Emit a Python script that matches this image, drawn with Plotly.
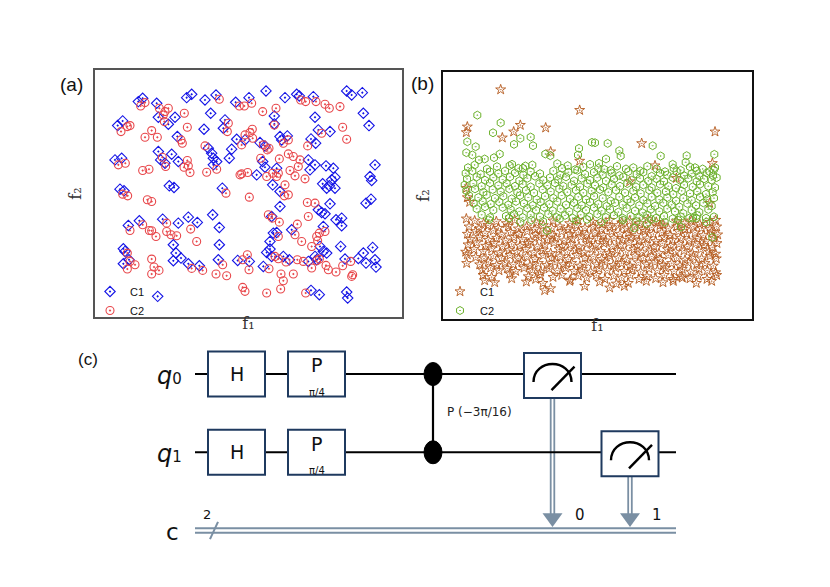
import plotly.graph_objects as go

# ---------------------------------------------------------------------------
# panel (a): two interleaved classes, positions
# (f1 to the right, f2 counted downward from the top of the frame)
A_C1 = [
    (265, 125), (278, 115), (320, 130), (410, 113), (425, 103), (465, 120), (498, 105), (557, 127),
    (597, 113), (648, 93), (705, 113), (740, 103), (748, 108), (790, 110), (890, 93), (905, 105),
    (937, 98), (940, 160), (957, 197), (325, 172), (375, 172), (355, 193), (482, 160), (525, 180),
    (520, 205), (462, 208), (203, 197), (218, 183), (673, 168), (673, 192), (795, 172), (805, 210),
    (840, 215), (382, 230), (560, 238), (585, 240), (630, 248), (645, 258), (690, 230), (712, 228),
    (695, 240), (783, 237), (797, 250), (475, 265), (485, 280), (545, 268), (195, 300), (215, 295),
    (325, 275), (332, 300), (345, 310), (365, 283), (385, 305), (490, 295), (490, 315), (500, 305),
    (538, 295), (620, 345), (638, 305), (645, 322), (680, 325), (775, 300), (795, 315), (780, 330),
    (828, 318), (850, 325), (855, 352), (845, 360), (975, 315), (960, 350), (965, 362), (210, 388),
    (222, 393), (358, 378), (372, 383), (517, 385), (668, 375), (690, 395), (818, 372), (838, 378),
    (855, 385), (830, 385), (948, 430), (963, 418), (840, 432), (690, 440), (805, 450), (815, 458),
    (825, 462), (235, 497), (268, 483), (338, 478), (385, 490), (415, 472), (442, 488), (488, 465),
    (508, 503), (665, 470), (858, 480), (875, 475), (875, 498), (725, 510), (820, 500), (670, 520),
    (680, 518), (660, 545), (872, 560), (220, 567), (225, 575), (370, 555), (378, 580), (370, 603),
    (393, 595), (415, 612), (448, 618), (508, 555), (505, 600), (563, 602), (598, 605), (650, 578),
    (660, 568), (640, 620), (700, 590), (718, 600), (775, 605), (795, 590), (800, 600), (810, 560),
    (820, 575), (830, 580), (885, 598), (925, 596), (940, 580), (968, 563), (948, 610), (975, 600),
    (978, 622), (220, 612), (237, 600), (665, 590), (323, 710), (783, 692), (808, 705), (890, 697),
    (893, 715),
]
A_C2 = [
    (272, 138), (285, 128), (328, 145), (345, 155), (355, 145), (343, 185), (340, 165), (403, 160),
    (412, 202), (508, 118), (568, 138), (583, 138), (605, 130), (638, 155), (678, 145), (752, 120),
    (767, 125), (798, 125), (825, 133), (838, 145), (870, 140), (878, 202), (890, 238), (213, 215),
    (232, 200), (240, 197), (285, 232), (305, 212), (322, 232), (393, 240), (397, 250), (535, 190),
    (532, 215), (575, 255), (585, 225), (600, 218), (608, 235), (607, 208), (465, 258), (652, 270),
    (657, 265), (640, 255), (673, 195), (715, 240), (700, 250), (773, 258), (815, 220), (205, 315),
    (226, 310), (278, 332), (297, 328), (337, 292), (347, 320), (402, 322), (420, 338), (415, 318),
    (412, 302), (470, 337), (500, 328), (570, 345), (575, 342), (593, 338), (632, 295), (650, 350),
    (668, 340), (685, 340), (680, 350), (688, 297), (715, 282), (730, 290), (720, 332), (745, 320),
    (750, 300), (735, 348), (705, 375), (765, 357), (598, 412), (218, 403), (233, 408), (292, 420),
    (305, 425), (528, 400), (703, 408), (715, 405), (772, 428), (795, 430), (775, 470), (240, 512),
    (278, 495), (298, 512), (305, 513), (318, 530), (350, 490), (350, 515), (363, 525), (380, 528),
    (422, 508), (440, 545), (655, 465), (667, 475), (688, 487), (685, 530), (742, 493), (735, 525),
    (755, 545), (808, 520), (825, 515), (800, 530), (803, 543), (785, 560), (232, 580), (240, 605),
    (255, 615), (232, 628), (305, 598), (312, 622), (327, 632), (305, 643), (425, 626), (458, 632),
    (498, 643), (518, 615), (530, 648), (592, 585), (578, 600), (597, 630), (657, 627), (675, 590),
    (685, 597), (708, 607), (730, 643), (742, 600), (760, 605), (800, 603), (808, 598), (785, 625),
    (828, 617), (835, 630), (858, 637), (878, 618), (902, 605), (908, 645), (905, 650), (693, 643),
    (700, 663), (692, 688), (578, 683), (585, 695), (650, 700), (767, 700),
]

# ---------------------------------------------------------------------------
# panel (b): two bands, C2 on top of C1
B_C2 = [
    (103, 130), (173, 153), (150, 183), (263, 196), (232, 200), (213, 218), (270, 222), (73, 210),
    (98, 225), (70, 243), (88, 250), (153, 258), (170, 247), (307, 247), (322, 252), (408, 230),
    (447, 212), (405, 250), (456, 213), (494, 215), (629, 222), (529, 237), (533, 253), (489, 262),
    (468, 275), (484, 293), (653, 253), (689, 278), (731, 252), (728, 272), (814, 248), (812, 295),
    (756, 288), (108, 265), (125, 262), (200, 282), (240, 290), (268, 280),
    (75, 288), (95, 280), (132, 292), (162, 285), (207, 278), (226, 290), (247, 283), (343, 276),
    (357, 290), (374, 282), (396, 294), (421, 286), (441, 278), (466, 290), (503, 296), (522, 284),
    (549, 292), (571, 288), (592, 298), (613, 284), (641, 292), (666, 300), (692, 290), (713, 296),
    (741, 286), (761, 298), (779, 292), (799, 300), (816, 288),
    (68, 305), (88, 298), (113, 308), (141, 300), (166, 306), (186, 298), (216, 304), (241, 310),
    (263, 300), (291, 306), (331, 298), (352, 310), (376, 302), (403, 296), (426, 308), (453, 302),
    (479, 310), (506, 304), (529, 312), (556, 300), (581, 308), (601, 302), (626, 314), (651, 304),
    (673, 310), (701, 300), (723, 312), (746, 306), (769, 314), (791, 304), (810, 312),
    (72, 322), (101, 316), (126, 326), (151, 318), (179, 324), (201, 316), (229, 328), (253, 320),
    (276, 314), (301, 326), (321, 318), (346, 324), (369, 316), (393, 328), (416, 320), (441, 326),
    (463, 318), (489, 328), (513, 322), (541, 316), (566, 326), (591, 320), (616, 328), (641, 322),
    (663, 330), (689, 318), (711, 326), (736, 320), (761, 330), (783, 322), (806, 326), (821, 318),
    (65, 340), (91, 336), (116, 344), (141, 334), (166, 342), (191, 336), (216, 344), (239, 338),
    (263, 346), (289, 336), (313, 342), (336, 334), (361, 344), (386, 340), (411, 346), (433, 336),
    (456, 342), (481, 348), (506, 338), (531, 344), (553, 336), (579, 346), (601, 340), (626, 348),
    (651, 338), (676, 344), (699, 350), (723, 340), (749, 346), (771, 338), (796, 344), (816, 348),
    (70, 358), (96, 352), (121, 362), (149, 354), (173, 360), (199, 352), (223, 362), (249, 356),
    (273, 364), (299, 354), (323, 360), (349, 352), (373, 362), (399, 356), (421, 364), (446, 358),
    (471, 354), (496, 362), (519, 356), (546, 364), (571, 358), (593, 366), (619, 356), (643, 364),
    (669, 360), (691, 368), (716, 358), (741, 366), (763, 360), (789, 368), (809, 362),
    (78, 372), (106, 378), (131, 370), (156, 380), (181, 374), (206, 382), (231, 372), (256, 378),
    (281, 384), (306, 374), (331, 380), (356, 372), (381, 382), (406, 376), (429, 384), (453, 374),
    (479, 380), (503, 388), (529, 376), (553, 384), (576, 378), (601, 386), (626, 376), (649, 384),
    (673, 378), (699, 388), (721, 380), (746, 386), (771, 376), (793, 384), (813, 380),
    (92, 396), (119, 390), (143, 398), (169, 392), (196, 400), (219, 390), (243, 396), (269, 402),
    (293, 392), (319, 398), (343, 390), (369, 400), (393, 394), (416, 402), (441, 392), (466, 398),
    (491, 404), (516, 394), (539, 400), (563, 392), (589, 402), (613, 396), (636, 404), (661, 394),
    (686, 400), (709, 406), (733, 396), (759, 402), (781, 394), (806, 404),
    (101, 412), (126, 406), (151, 416), (179, 408), (203, 414), (229, 420), (253, 410), (279, 416),
    (303, 408), (329, 418), (353, 412), (379, 420), (403, 410), (429, 416), (453, 408), (476, 418),
    (501, 414), (526, 422), (551, 410), (576, 418), (599, 424), (623, 414), (649, 420), (673, 412),
    (696, 420), (721, 426), (746, 416), (769, 422), (796, 414),
    (116, 430), (141, 438), (189, 434), (213, 428), (239, 438), (263, 430), (291, 436), (316, 428),
    (341, 438), (366, 432), (389, 440), (413, 430), (439, 436), (463, 428), (489, 438), (513, 432),
    (539, 440), (563, 434), (589, 438), (613, 430), (639, 440), (663, 434), (689, 442), (713, 436),
    (739, 440), (763, 432), (789, 440), (813, 436),
    (138, 445), (198, 440), (232, 452), (265, 446), (300, 450), (350, 442), (400, 448), (432, 444),
    (475, 452), (540, 446), (580, 450), (625, 444), (665, 452), (705, 446), (750, 440), (790, 452),
    (312, 478), (574, 470), (611, 457), (714, 467), (808, 498), (760, 440),
]
B_C1 = [
    (173, 53), (410, 115), (73, 165), (70, 182), (232, 160), (212, 180), (178, 198), (308, 168),
    (323, 240), (410, 268), (596, 215), (636, 282), (816, 180), (808, 275), (70, 350), (73, 378),
    (80, 392), (800, 395), (560, 330), (700, 320),
    (70, 442), (95, 448), (122, 456), (160, 450), (190, 456), (215, 446), (280, 454), (330, 448),
    (380, 456), (405, 446), (450, 452), (478, 458), (500, 446), (536, 454), (560, 448), (590, 456),
    (615, 444), (640, 452), (660, 460), (700, 450), (725, 456), (745, 448), (770, 458), (800, 452),
    (818, 446),
    (78, 466), (108, 472), (135, 462), (166, 470), (196, 464), (226, 472), (251, 466), (276, 474),
    (301, 462), (326, 470), (351, 466), (376, 474), (401, 462), (426, 470), (451, 466), (476, 474),
    (501, 468), (526, 462), (551, 472), (576, 466), (601, 474), (626, 468), (651, 462), (676, 472),
    (701, 466), (726, 474), (751, 466), (776, 470), (801, 474), (821, 466),
    (73, 488), (98, 480), (126, 486), (151, 478), (176, 490), (203, 482), (228, 488), (253, 480),
    (278, 490), (303, 484), (328, 492), (356, 480), (381, 488), (406, 482), (431, 490), (456, 484),
    (481, 492), (506, 480), (531, 488), (556, 484), (581, 492), (606, 480), (631, 488), (656, 484),
    (681, 492), (706, 480), (731, 488), (756, 484), (781, 492), (806, 482), (824, 490),
    (82, 504), (110, 498), (136, 506), (161, 500), (188, 508), (213, 498), (238, 504), (263, 510),
    (288, 498), (313, 506), (338, 500), (363, 508), (388, 502), (413, 496), (438, 506), (463, 500),
    (488, 508), (513, 500), (538, 506), (563, 498), (588, 508), (613, 502), (638, 510), (663, 498),
    (688, 506), (713, 500), (738, 508), (763, 502), (788, 510), (813, 500),
    (75, 520), (101, 514), (128, 524), (153, 516), (178, 526), (206, 518), (231, 524), (256, 516),
    (283, 526), (306, 520), (333, 514), (358, 524), (383, 518), (408, 526), (433, 516), (458, 522),
    (483, 516), (508, 526), (533, 520), (558, 514), (583, 524), (608, 518), (633, 526), (658, 516),
    (683, 524), (708, 518), (733, 526), (758, 516), (783, 522), (808, 528), (822, 516),
    (68, 542), (93, 534), (121, 540), (146, 532), (171, 544), (198, 536), (223, 542), (248, 534),
    (273, 544), (298, 538), (323, 546), (348, 534), (373, 542), (398, 536), (423, 544), (448, 532),
    (473, 540), (498, 546), (523, 536), (548, 542), (573, 534), (598, 544), (623, 538), (648, 546),
    (673, 534), (698, 542), (723, 538), (748, 546), (773, 534), (798, 542), (818, 548),
    (73, 550), (98, 558), (123, 562), (151, 554), (176, 560), (201, 552), (226, 562), (251, 556),
    (276, 564), (301, 552), (326, 560), (351, 556), (376, 564), (401, 552), (426, 560), (451, 556),
    (476, 564), (501, 554), (526, 560), (551, 566), (576, 554), (601, 560), (626, 556), (651, 564),
    (676, 552), (701, 560), (726, 566), (751, 556), (776, 562), (801, 554), (820, 562),
    (71, 576), (110, 580), (136, 572), (161, 582), (186, 574), (211, 580), (236, 572), (261, 584),
    (286, 576), (311, 582), (336, 572), (361, 580), (386, 576), (411, 584), (436, 574), (461, 580),
    (486, 572), (511, 582), (536, 576), (561, 584), (586, 574), (611, 580), (636, 572), (661, 582),
    (686, 576), (711, 584), (736, 574), (761, 580), (786, 576), (811, 584),
    (118, 596), (143, 590), (168, 598), (193, 592), (218, 600), (243, 590), (268, 596), (293, 602),
    (318, 592), (343, 598), (368, 590), (393, 600), (418, 594), (443, 602), (468, 592), (493, 598),
    (518, 590), (543, 600), (568, 594), (593, 602), (618, 592), (643, 598), (668, 590), (693, 600),
    (718, 594), (743, 602), (768, 592), (793, 598), (818, 604),
    (120, 612), (146, 618), (200, 608), (206, 622), (256, 616), (278, 624), (290, 610), (330, 618),
    (356, 612), (382, 626), (406, 614), (431, 620), (460, 612), (486, 624), (512, 614), (536, 620),
    (562, 612), (588, 624), (612, 616), (638, 622), (664, 612), (690, 624), (716, 616), (741, 622),
    (766, 614), (792, 624), (821, 612),
    (125, 628), (155, 634), (250, 632), (300, 636), (380, 630), (425, 645), (470, 632), (520, 638),
    (556, 636), (610, 630), (660, 634), (691, 630), (718, 620), (760, 636), (806, 630),
    (305, 658), (323, 652), (544, 645), (500, 650),
]

# ---------------------------------------------------------------------------
# panel (c): quantum circuit, x in column units, y in wire index (q0, q1, c)
WIRE_NAMES = ["q", "q", "c"]
WIRE_INDEX = ["0", "1", ""]
GATE_NAMES = ["H", "P", "H", "P"]
GATE_PARAMS = ["", "π/4", "", "π/4"]
GATE_QUBITS = [0, 0, 1, 1]
GATE_COLS = [236.5, 316.5, 236.5, 316.5]
CP_COL = 433
CP_QUBITS = [0, 1]
CP_LABEL = "P (−3π/16)"
MEAS_COLS = [552.5, 630]
MEAS_QUBITS = [0, 1]
MEAS_BITS = ["0", "1"]
N_CLBITS = "2"
WIRE_START, WIRE_END = 195, 676

# the page body adds an 8px margin, so the figure is drawn 8px smaller
OFF = 8
W, H = 830 - OFF, 587 - OFF
NAVY = "#1f3a5f"
CGRAY = "#7a8fa3"


def px(x):
    return (x - OFF) / W


def py(y):
    return 1 - (y - OFF) / H


fig = go.Figure()

# ---- (a)
fig.add_trace(go.Scatter(
    x=[p[0] for p in A_C1], y=[p[1] for p in A_C1], mode="markers", name="C1",
    marker=dict(symbol="diamond-open-dot", size=8, color="#1414e6", line=dict(width=1.1)),
    xaxis="x", yaxis="y", legend="legend",
))
fig.add_trace(go.Scatter(
    x=[p[0] for p in A_C2], y=[p[1] for p in A_C2], mode="markers", name="C2",
    marker=dict(symbol="circle-open-dot", size=8, color="#e8474b", line=dict(width=1.1)),
    xaxis="x", yaxis="y", legend="legend",
))

# ---- (b)
fig.add_trace(go.Scatter(
    x=[p[0] for p in B_C1], y=[p[1] for p in B_C1], mode="markers", name="C1",
    marker=dict(symbol="star-open-dot", size=7.5, color="#b3581b", line=dict(width=0.9)),
    xaxis="x2", yaxis="y2", legend="legend2",
))
fig.add_trace(go.Scatter(
    x=[p[0] for p in B_C2], y=[p[1] for p in B_C2], mode="markers", name="C2",
    marker=dict(symbol="hexagon-open-dot", size=8, color="#6cb12c", line=dict(width=1)),
    xaxis="x2", yaxis="y2", legend="legend2",
))

# ---- (c) circuit drawn as shapes on its own axis pair
shapes = []
unit = 78.25  # px per wire step
half = 0.2875
c_y = 2

# classical connections first, so the quantum wires pass over them
for col, q in zip(MEAS_COLS, MEAS_QUBITS):
    for dx in (-1.8, 1.8):
        shapes.append(dict(type="line", xref="x3", yref="y3", x0=col + dx, x1=col + dx,
                           y0=q + half, y1=c_y - 0.2, line=dict(color=CGRAY, width=1.8)))
    shapes.append(dict(type="path", xref="x3", yref="y3", fillcolor=CGRAY, line=dict(width=0),
                       path=f"M {col - 10},{c_y - 0.22} L {col + 10},{c_y - 0.22} L {col},{c_y - 0.045} Z"))

for q in (0, 1):
    shapes.append(dict(type="line", xref="x3", yref="y3", x0=WIRE_START, x1=WIRE_END, y0=q, y1=q,
                       line=dict(color="black", width=2.2)))
for dy in (-0.03, 0.03):
    shapes.append(dict(type="line", xref="x3", yref="y3", x0=WIRE_START, x1=WIRE_END,
                       y0=c_y + dy, y1=c_y + dy, line=dict(color=CGRAY, width=2)))
shapes.append(dict(type="line", xref="x3", yref="y3", x0=210, x1=218, y0=c_y + 0.11, y1=c_y - 0.11,
                   line=dict(color=CGRAY, width=2)))

for col, q in zip(GATE_COLS, GATE_QUBITS):
    shapes.append(dict(type="rect", xref="x3", yref="y3", x0=col - 28.5, x1=col + 28.5,
                       y0=q - half, y1=q + half, fillcolor="white", line=dict(color=NAVY, width=2)))

shapes.append(dict(type="line", xref="x3", yref="y3", x0=CP_COL, x1=CP_COL,
                   y0=CP_QUBITS[0], y1=CP_QUBITS[1], line=dict(color="black", width=2.2)))
for q in CP_QUBITS:
    shapes.append(dict(type="circle", xref="x3", yref="y3", x0=CP_COL - 9, x1=CP_COL + 9,
                       y0=q - 0.147, y1=q + 0.147, fillcolor="black", line=dict(color="black", width=1)))

for col, q in zip(MEAS_COLS, MEAS_QUBITS):
    yc = q + 0.02
    shapes.append(dict(type="rect", xref="x3", yref="y3", x0=col - 28.5, x1=col + 28.5,
                       y0=yc - half, y1=yc + half, fillcolor="white", line=dict(color=NAVY, width=2)))
    shapes.append(dict(type="path", xref="x3", yref="y3", line=dict(color="black", width=2.4),
                       path=(f"M {col - 19},{yc + 0.083} C {col - 19},{yc - 0.224} "
                             f"{col + 19},{yc - 0.224} {col + 19},{yc + 0.083}")))
    shapes.append(dict(type="line", xref="x3", yref="y3", x0=col - 1, x1=col + 22,
                       y0=yc + 0.185, y1=yc - 0.115, line=dict(color="black", width=2.4)))

ann = []
for name, par, col, q in zip(GATE_NAMES, GATE_PARAMS, GATE_COLS, GATE_QUBITS):
    ann.append(dict(xref="x3", yref="y3", x=col, y=q - (0.11 if par else 0), text=name, showarrow=False,
                    font=dict(family="DejaVu Sans", size=19, color="#111")))
    if par:
        ann.append(dict(xref="x3", yref="y3", x=col, y=q + 0.23, text=par, showarrow=False,
                        font=dict(family="DejaVu Sans", size=10, color="#111")))
ann.append(dict(xref="x3", yref="y3", x=CP_COL + 12, y=0.48, text=CP_LABEL, showarrow=False,
                xanchor="left", font=dict(family="DejaVu Sans", size=12, color="#222")))
for col, bit in zip(MEAS_COLS, MEAS_BITS):
    ann.append(dict(xref="x3", yref="y3", x=col + 20, y=c_y - 0.2, text=bit, showarrow=False,
                    xanchor="left", font=dict(family="DejaVu Sans", size=15, color="#111")))
ann.append(dict(xref="x3", yref="y3", x=207, y=c_y - 0.21, text=N_CLBITS, showarrow=False,
                font=dict(family="DejaVu Sans", size=13, color="#111")))
for i, (name, idx) in enumerate(zip(WIRE_NAMES, WIRE_INDEX)):
    if idx:
        text = f"<i>{name}</i><span style='font-size:15px'>{idx}</span>"
        ann.append(dict(xref="x3", yref="y3", x=184, y=i + 0.02, text=text,
                        showarrow=False, xanchor="right",
                        font=dict(family="DejaVu Sans", size=24, color="#111")))
    else:
        ann.append(dict(xref="x3", yref="y3", x=181, y=i + 0.02, text=name,
                        showarrow=False, xanchor="right",
                        font=dict(family="DejaVu Sans", size=23, color="#111")))

# panel tags
for tag, x, y, s in [("(a)", 71, 85, 19), ("(b)", 422, 83, 19), ("(c)", 88, 359, 17)]:
    ann.append(dict(xref="paper", yref="paper", x=px(x), y=py(y), text=tag, showarrow=False,
                    xanchor="center", yanchor="middle",
                    font=dict(family="Liberation Sans", size=s, color="#111")))

frame = dict(showgrid=False, zeroline=False, showticklabels=False, ticks="",
             showline=True, mirror=True)
label_font = dict(family="DejaVu Serif", size=16, color="#333")
legend_font = dict(family="Liberation Sans", size=11, color="#111")

fig.update_layout(
    width=W, height=H,
    margin=dict(l=0, r=0, t=0, b=0, autoexpand=False),
    paper_bgcolor="white",
    plot_bgcolor="rgba(0,0,0,0)",
    showlegend=True,
    xaxis=dict(domain=[px(95), px(402)], range=[135, 1056], anchor="y", linecolor="#555",
               linewidth=1.5, title=dict(text="f₁", font=label_font, standoff=0), **frame),
    yaxis=dict(domain=[py(317), py(70)], range=[772, 30], anchor="x", linecolor="#555",
               linewidth=1.5, title=dict(text="f₂", font=label_font, standoff=8), **frame),
    xaxis2=dict(domain=[px(443), px(752)], range=[0, 927], anchor="y2", linecolor="#111",
                linewidth=1.5, title=dict(text="f₁", font=label_font, standoff=0), **frame),
    yaxis2=dict(domain=[py(319), py(72)], range=[744, 0], anchor="x2", linecolor="#111",
                linewidth=1.5, title=dict(text="f₂", font=label_font, standoff=8), **frame),
    xaxis3=dict(domain=[0, 1], range=[OFF, 830], anchor="y3", visible=False),
    yaxis3=dict(domain=[0, py(340)], range=[(587 - 374) / unit, (340 - 374) / unit], anchor="x3",
                visible=False),
    legend=dict(x=px(90), y=py(277), xanchor="left", yanchor="top", bgcolor="rgba(0,0,0,0)",
                font=legend_font, tracegroupgap=0),
    legend2=dict(x=px(440), y=py(277), xanchor="left", yanchor="top", bgcolor="rgba(0,0,0,0)",
                 font=legend_font, tracegroupgap=0),
    shapes=shapes,
    annotations=ann,
)

fig.write_html("out.html")
